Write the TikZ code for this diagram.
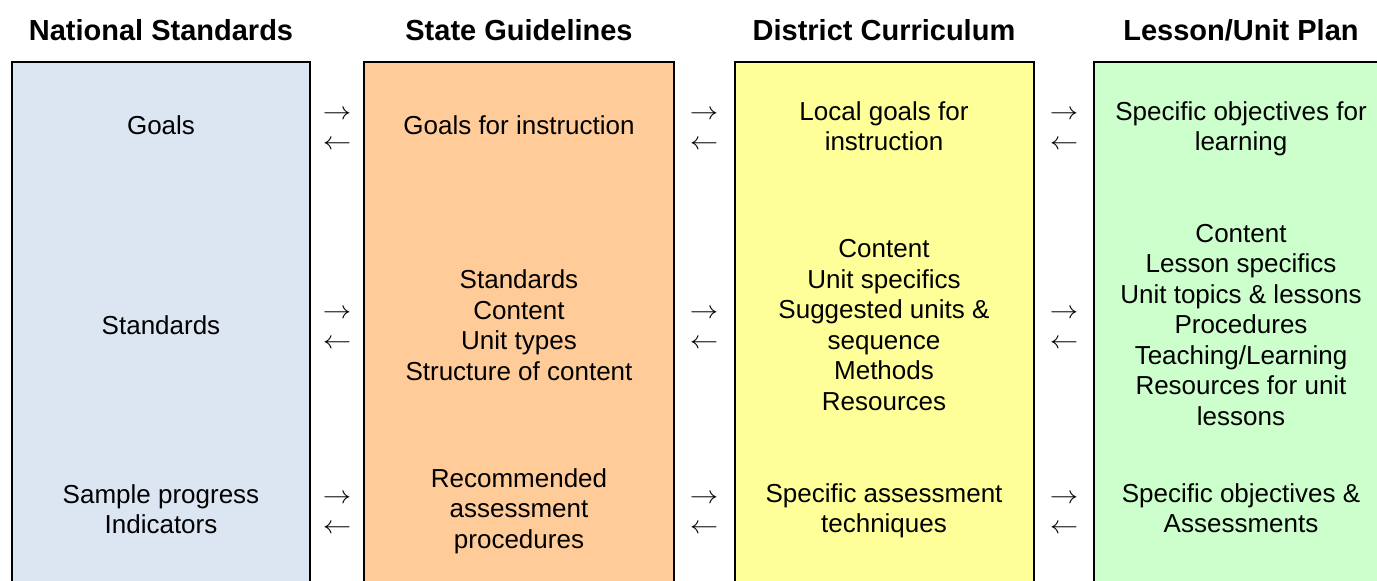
\documentclass[tikz,border=0pt]{standalone}
\usepackage{fontspec}
\setmainfont{Liberation Sans}
\definecolor{natblue}{HTML}{DCE6F2}
\definecolor{stateorange}{HTML}{FFCC99}
\definecolor{distyellow}{HTML}{FFFF99}
\definecolor{lessongreen}{HTML}{CCFFCC}
\begin{document}
\begin{tikzpicture}[x=1pt,y=-1pt,
  colbox/.style={draw=black,line width=2pt},
  heading/.style={font=\fontsize{29}{33}\selectfont\bfseries,inner sep=0pt},
  cell/.style={font=\fontsize{26}{30.5}\selectfont,align=center,inner sep=0pt},
  flow/.style={font=\fontsize{24}{28}\selectfont,inner sep=0pt,xscale=1.14}]
\useasboundingbox (0,0) rectangle (1377,581);
\clip (0,0) rectangle (1377,581);

% column boxes (running off the lower edge)
\fill[natblue] (12,62) rectangle (310,600);
\draw[colbox] (12,600) -- (12,62) -- (310,62) -- (310,600);
\fill[stateorange] (364,62) rectangle (674,600);
\draw[colbox] (364,600) -- (364,62) -- (674,62) -- (674,600);
\fill[distyellow] (735,62) rectangle (1034,600);
\draw[colbox] (735,600) -- (735,62) -- (1034,62) -- (1034,600);
\fill[lessongreen] (1094,62) rectangle (1400,600);
\draw[colbox] (1094,600) -- (1094,62) -- (1400,62);

% headings
\node[heading] (h1) at (161,30) {National Standards};
\node[heading] (h2) at (519,30) {State Guidelines};
\node[heading] (h3) at (884,30) {District Curriculum};
\node[heading] (h4) at (1241,30) {Lesson/Unit Plan};

% first row
\node[cell] (n1) at (161,125) {Goals};
\node[cell] (s1) at (519,125) {Goals for instruction};
\node[cell] (d1) at (884,126) {Local goals for\\instruction};
\node[cell] (l1) at (1241,129) {Specific objectives for\\learning};

% second row
\node[cell] (n2) at (161,325) {Standards};
\node[cell] (s2) at (519,325) {Standards\\Content\\Unit types\\Structure of content};
\node[cell] (d2) at (884,325) {Content\\Unit specifics\\Suggested units \&\\sequence\\Methods\\Resources};
\node[cell] (l2) at (1241,325) {Content\\Lesson specifics\\Unit topics \& lessons\\Procedures\\Teaching/Learning\\Resources for unit\\lessons};

% third row
\node[cell] (n3) at (161,509) {Sample progress\\Indicators};
\node[cell] (s3) at (519,511) {Recommended\\assessment\\procedures};
\node[cell] (d3) at (884,511) {Specific assessment\\techniques};
\node[cell] (l3) at (1241,508) {Specific objectives \&\\Assessments};

% exchange marks between neighbouring columns
\foreach \ax/\tag in {337/a,704/b,1064/c}{
  \foreach \ry/\rw in {115/1,314/2,499/3}{
    \node[flow] (fwd\tag\rw) at (\ax,\ry) {$\rightarrow$};
    \node[flow] (back\tag\rw) at (\ax,\ry+29.5) {$\leftarrow$};
  }
}
\end{tikzpicture}
\end{document}
